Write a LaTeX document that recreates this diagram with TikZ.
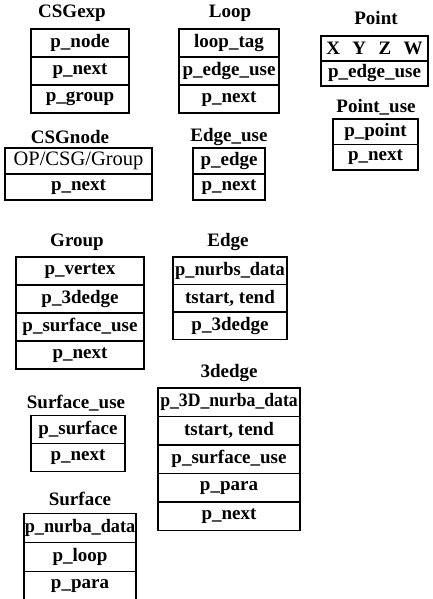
\documentclass[tikz,border=0pt]{standalone}
\usepackage{fontspec}
\setmainfont{Liberation Serif}
\begin{document}
\begin{tikzpicture}[x=1pt,y=-1pt,
  fld/.style 2 args={draw, line width=1.3pt, minimum width=#1, minimum height=#2, inner sep=0pt, font=\fontsize{19}{19}\selectfont\bfseries},
  ttl/.style={inner sep=0pt, font=\fontsize{19}{19}\selectfont\bfseries}]
\useasboundingbox (0,0) rectangle (433,599);
% CSGexp
\node[ttl] (t1) at (72,13) {CSGexp};
\node[fld={98}{28}] (csgexp1) at (80,43) {p\_node};
\node[fld={98}{28}] (csgexp2) at (80,71) {p\_next};
\node[fld={98}{28}] (csgexp3) at (80,99) {p\_group};
% Loop
\node[ttl] (t2) at (230,13) {Loop};
\node[fld={100}{28}] (loop1) at (229,43) {loop\_tag};
\node[fld={100}{28}] (loop2) at (229,71) {p\_edge\_use};
\node[fld={100}{28}] (loop3) at (229,99) {p\_next};
% Point
\node[ttl] (t3) at (376,18) {Point};
\node[fld={107}{25}] (point1) at (374.5,48.5) {X\hspace{0.65em}Y\hspace{0.65em}Z\hspace{0.65em}W};
\node[fld={107}{25}] (point2) at (374.5,73.5) {p\_edge\_use};
% CSGnode
\node[ttl] (t4) at (70,137) {CSGnode};
\node[fld={147}{26}] (csgnode1) at (78.5,161) {\mdseries\fontsize{20.5}{20.5}\selectfont OP/CSG/Group};
\node[fld={147}{26}] (csgnode2) at (78.5,187) {p\_next};
% Edge_use
\node[ttl] (t5) at (229,137) {Edge\_use};
\node[fld={72}{26}] (edgeuse1) at (229,161) {p\_edge};
\node[fld={72}{26}] (edgeuse2) at (229,187) {p\_next};
% Point_use
\node[ttl] (t6) at (376,107) {Point\_use};
\node[fld={85}{25.5}] (pointuse1) at (375.5,131.75) {p\_point};
\node[fld={85}{25.5}] (pointuse2) at (375.5,157.25) {p\_next};
% Group
\node[ttl] (t7) at (77,242) {Group};
\node[fld={128}{28}] (group1) at (80,271) {p\_vertex};
\node[fld={128}{28}] (group2) at (80,299) {p\_3dedge};
\node[fld={128}{28}] (group3) at (80,327) {p\_surface\_use};
\node[fld={128}{28}] (group4) at (80,355) {p\_next};
% Edge
\node[ttl] (t8) at (228,242) {Edge};
\node[fld={114}{27.5}] (edge1) at (230,270.75) {\scalebox{0.97}[1]{p\_nurbs\_data}};
\node[fld={114}{27.5}] (edge2) at (230,298.25) {tstart, tend};
\node[fld={114}{27.5}] (edge3) at (230,325.75) {p\_3dedge};
% 3dedge
\node[ttl] (t9) at (229,373) {3dedge};
\node[fld={142}{28.5}] (dedge1) at (229,402.25) {\scalebox{0.93}[1]{p\_3D\_nurba\_data}};
\node[fld={142}{28.5}] (dedge2) at (229,430.75) {tstart, tend};
\node[fld={142}{28.5}] (dedge3) at (229,459.25) {p\_surface\_use};
\node[fld={142}{28.5}] (dedge4) at (229,487.75) {p\_para};
\node[fld={142}{28.5}] (dedge5) at (229,516.25) {p\_next};
% Surface_use
\node[ttl] (t10) at (76,403) {Surface\_use};
\node[fld={94}{28}] (surfuse1) at (78,429.5) {p\_surface};
\node[fld={94}{28}] (surfuse2) at (78,457.5) {p\_next};
% Surface
\node[ttl] (t11) at (80,499) {Surface};
\node[fld={112}{29}] (surf1) at (80,528) {\scalebox{0.96}[1]{p\_nurba\_data}};
\node[fld={112}{29}] (surf2) at (80,557) {p\_loop};
\node[fld={112}{29}] (surf3) at (80,586) {p\_para};
\end{tikzpicture}
\end{document}
